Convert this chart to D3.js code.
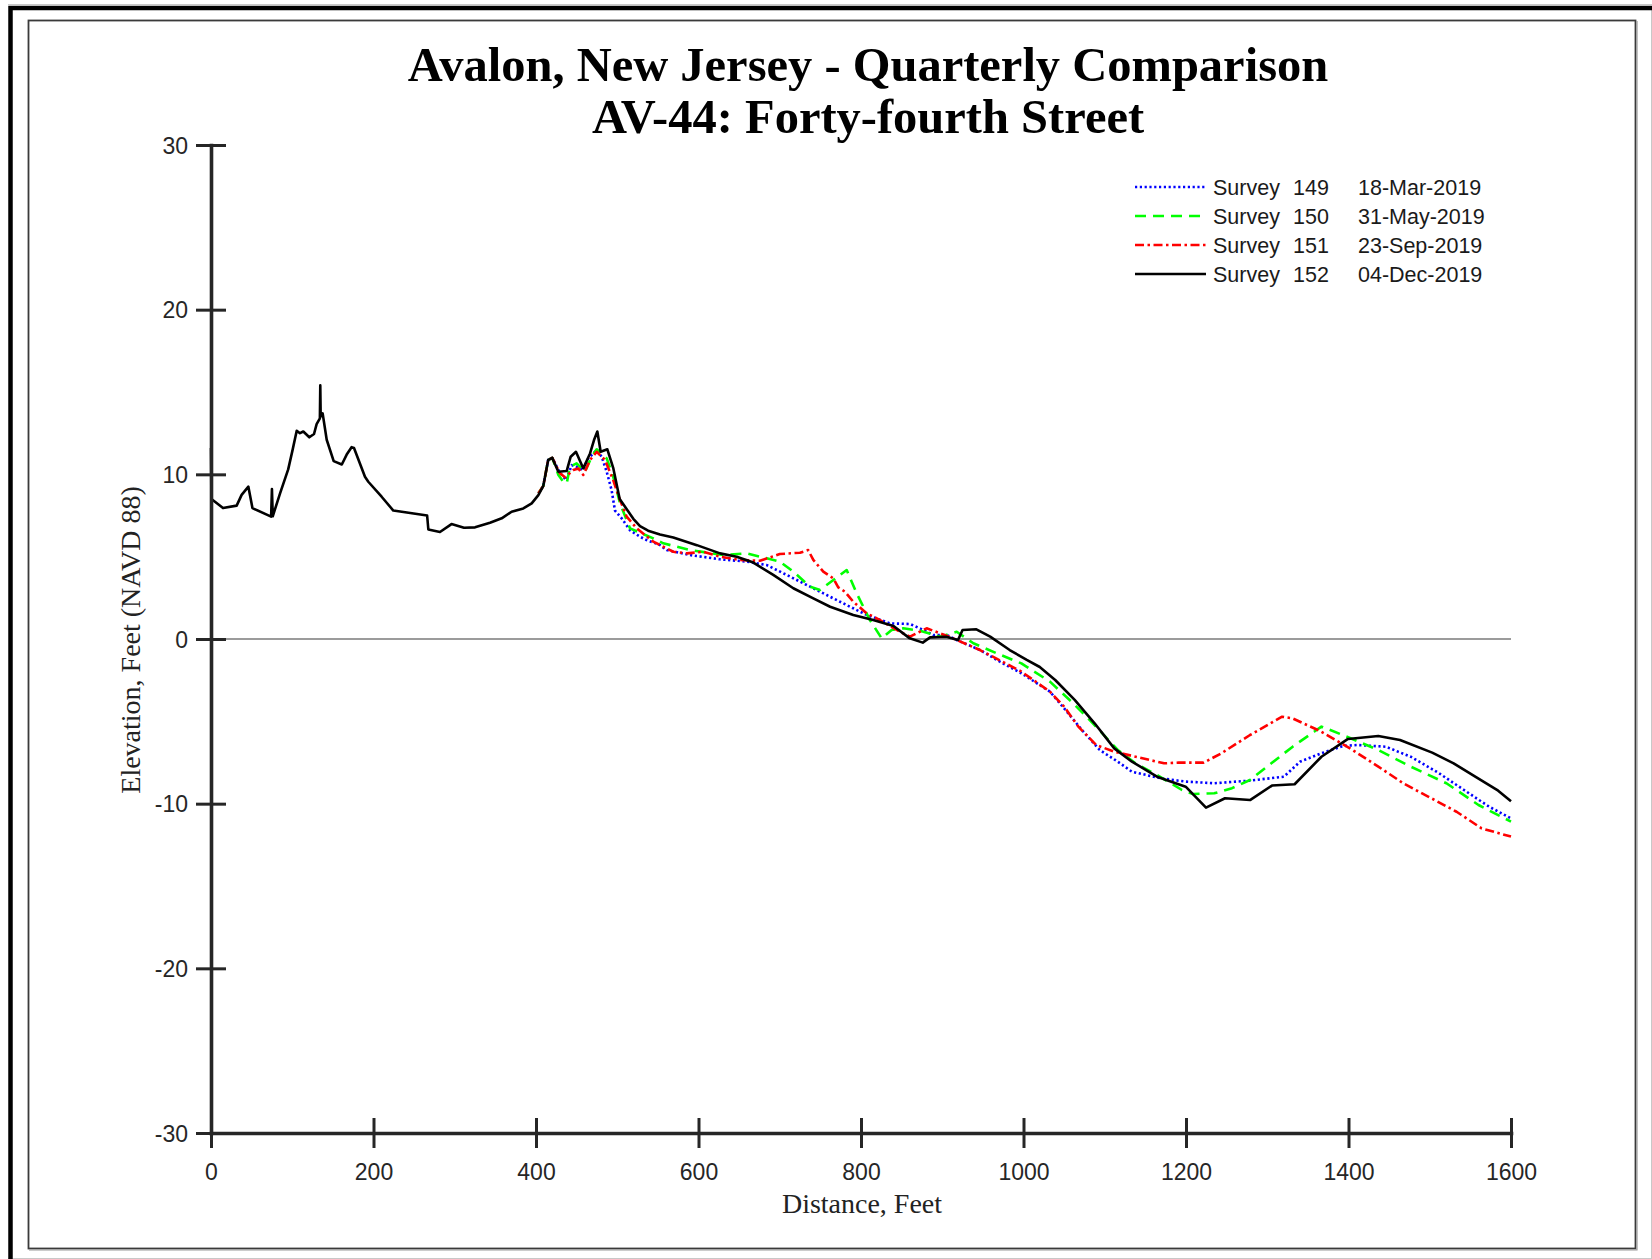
<!DOCTYPE html>
<html>
<head>
<meta charset="utf-8">
<script src="https://cdn.jsdelivr.net/npm/d3@7/dist/d3.min.js"></script>
<style>
   body { margin: 0; background: #fff; }
   svg { display: block; }
</style>
</head>
<body>
<div id="profile-chart"></div>
<script>
// values: [distance ft, elevation ft NAVD88]
const survey149 = [[403,8.85],[409,9.3],[415,10.87],[420,11.0],[428.7,10.16],[437,9.65],[444,10.56],[450,10.46],[457.4,10.26],[464.4,10.97],[474.7,11.48],[480.8,11.07],[487,10.16],[493,9.05],[497.2,7.8],[505.4,7.33],[515.7,6.6],[528,6.21],[536,6.01],[552.6,5.71],[560.8,5.4],[589.5,5.1],[626.5,4.84],[659.3,4.7],[684,4.49],[708.6,3.89],[733.2,3.28],[757.8,2.67],[782.4,2.06],[807,1.46],[835.7,0.95],[860.3,0.91],[876.7,0.55],[889,0.24],[905.5,0.24],[917.8,-0.06],[946.5,-0.67],[971,-1.38],[997.4,-2.08],[1032.6,-3.2],[1050,-4.21],[1072,-5.53],[1093.8,-6.74],[1116,-7.45],[1133.5,-8.06],[1168.9,-8.46],[1199.6,-8.66],[1234.8,-8.76],[1278.8,-8.6],[1320.6,-8.36],[1340.3,-7.45],[1366.7,-6.94],[1393,-6.5],[1410.6,-6.44],[1445.8,-6.54],[1476.6,-7.15],[1511.4,-8.15],[1542.2,-9.17],[1573,-10.18],[1600,-10.89]];

const survey150 = [[403,8.85],[409,9.3],[415,10.87],[420,11.0],[427.6,9.96],[433.6,9.55],[437.8,9.45],[441.8,10.46],[450,10.67],[460.3,10.16],[468.5,11.07],[474.7,11.52],[487,10.97],[495,9.86],[503.4,8.24],[515.7,6.72],[528,6.45],[544.4,6.11],[556.7,5.81],[589.5,5.4],[630.6,5.1],[659.3,5.2],[684,4.9],[700.3,4.69],[716.7,4.09],[737.2,3.18],[749.5,2.98],[766,3.58],[782.4,4.19],[794.7,2.77],[811,1.15],[825.4,0.04],[837.7,0.55],[852,0.65],[872.6,0.5],[897.2,0.14],[917.8,0.44],[938.3,-0.26],[967,-0.87],[997.4,-1.48],[1032.6,-2.59],[1059,-3.8],[1085.4,-5.12],[1116,-6.74],[1138,-7.55],[1164.3,-8.26],[1195,-9.17],[1208.5,-9.41],[1234.8,-9.37],[1256.6,-9.06],[1278.8,-8.56],[1305,-7.55],[1331.3,-6.54],[1357.6,-5.63],[1366.7,-5.32],[1393,-5.83],[1436.7,-6.74],[1476.6,-7.75],[1520.5,-8.76],[1560,-10.08],[1600,-11.09]];

const survey151 = [[403,8.85],[409,9.3],[415,10.87],[420,11.0],[429.5,10.06],[435.7,9.82],[446,10.26],[452,10.36],[458.2,9.96],[466.5,10.87],[474.7,11.37],[485,10.87],[495,9.65],[503.4,8.44],[511.6,7.43],[524,6.72],[544.4,5.91],[569,5.3],[585.5,5.2],[606,5.3],[626.5,5.0],[651,4.8],[675.7,4.75],[700,5.16],[724.9,5.24],[735,5.4],[741.3,4.8],[753.6,4.09],[766,3.68],[772,3.14],[780.3,2.87],[790.5,2.26],[807,1.56],[823.4,1.15],[848,0.44],[860.3,0.14],[880.8,0.65],[897.2,0.35],[917.8,-0.06],[946.5,-0.67],[971,-1.3],[997.4,-1.98],[1032.6,-3.2],[1050,-4.11],[1067.5,-5.32],[1089.4,-6.44],[1111.7,-6.84],[1138,-7.15],[1173,-7.55],[1191,-7.51],[1221.6,-7.51],[1243.6,-6.94],[1278.8,-5.83],[1318.3,-4.72],[1331.3,-4.82],[1366.7,-5.63],[1401.8,-6.64],[1436.7,-7.75],[1467.3,-8.76],[1498,-9.57],[1533,-10.49],[1563.8,-11.5],[1600,-12.0]];

const survey152 = [[0,11.6],[0.5,8.5],[14.8,7.95],[31.6,8.1],[37.7,8.75],[46,9.25],[51,7.95],[74,7.43],[75,9.1],[76,7.45],[85,8.85],[95,10.3],[100.5,11.5],[105.5,12.65],[109.5,12.5],[113.6,12.6],[121,12.25],[126.8,12.45],[130,13.05],[134,13.4],[134.5,15.4],[135,13.5],[137.4,13.7],[142.4,12.1],[151,10.8],[161,10.6],[167,11.2],[173,11.65],[176,11.6],[189.5,9.85],[193.6,9.55],[210,8.64],[224.4,7.8],[266,7.5],[267.5,6.65],[281.8,6.5],[296,6.98],[311.4,6.76],[325,6.78],[343.4,7.06],[357.8,7.33],[370,7.73],[384.4,7.93],[394.7,8.24],[402.9,8.74],[409,9.3],[415,10.87],[420,11.0],[427.5,10.16],[437.7,10.2],[442.7,11.07],[449.2,11.37],[458.2,10.36],[466.5,11.27],[471.4,12.08],[475.5,12.6],[479.6,11.37],[487.8,11.52],[495.2,10.36],[503,8.5],[510,8.0],[519.8,7.3],[528,6.85],[538,6.58],[552.6,6.35],[569,6.17],[598,5.7],[626.5,5.2],[647,5.0],[667.5,4.64],[692,3.89],[716.7,3.08],[741.3,2.47],[762,1.96],[790.5,1.46],[815,1.15],[840,0.79],[860,0.04],[876,-0.22],[885,0.1],[905,0.14],[919.4,-0.06],[925,0.55],[942,0.59],[959,0.14],[983,-0.67],[1004,-1.27],[1020,-1.7],[1039,-2.49],[1063,-3.7],[1087.5,-5.12],[1111.7,-6.64],[1133.5,-7.45],[1164.3,-8.36],[1199.6,-8.97],[1224.6,-10.24],[1248,-9.67],[1278.8,-9.78],[1305.8,-8.9],[1333.7,-8.82],[1366.7,-7.15],[1399.4,-6.07],[1436.7,-5.89],[1463.4,-6.13],[1503,-6.9],[1529.4,-7.55],[1556,-8.36],[1584.2,-9.21],[1600,-9.85]];

const surveyNumbers = ['149', '150', '151', '152'];
const surveyDates = ['18-Mar-2019', '31-May-2019', '23-Sep-2019', '04-Dec-2019'];
const xTicks = [0, 200, 400, 600, 800, 1000, 1200, 1400, 1600];
const yTicks = [-30, -20, -10, 0, 10, 20, 30];

const width = 1652,
   height = 1259,
   plot = {left: 211, right: 1511, top: 145, bottom: 1133},
   axisColor = '#262626',
   sansFont = '"Liberation Sans", Arial, sans-serif',
   serifFont = '"Liberation Serif", "Times New Roman", serif';

// one style per survey, same order as surveyNumbers
const lineStyles = [
   {color: '#0000ff', dash: '2.2,2.6'},
   {color: '#00ff00', dash: '11,7'},
   {color: '#ff0000', dash: '9,3.5,2.5,3.5'},
   {color: '#000000', dash: null}
];
const surveys = [survey149, survey150, survey151, survey152];

const svg = d3.select('#profile-chart')
   .append('svg')
   .attr('viewBox', [0, 0, width, height])
   .attr('width', width)
   .attr('height', height);

// page frame
svg.append('rect').attr('width', width).attr('height', height).attr('fill', '#fff');
svg.append('line').attr('x1', 8).attr('x2', width).attr('y1', 4.5).attr('y2', 4.5).attr('stroke', '#c8c8c8');
svg.append('line').attr('x1', 1651.5).attr('x2', 1651.5).attr('y1', 8).attr('y2', height).attr('stroke', '#c8c8c8');
svg.append('line').attr('x1', 8).attr('x2', width).attr('y1', 1258.5).attr('y2', 1258.5).attr('stroke', '#c8c8c8');
svg.append('path')
   .attr('d', `M10.5,${height} V8 H${width}`)
   .attr('fill', 'none')
   .attr('stroke', '#000')
   .attr('stroke-width', 4.5);
svg.append('rect')
   .attr('x', 28.5).attr('y', 20.5)
   .attr('width', 1607).attr('height', 1228)
   .attr('fill', 'none')
   .attr('stroke', '#3a3a3a')
   .attr('stroke-width', 1.8);
svg.append('path')
   .attr('d', 'M1637,21 V1250 H29')
   .attr('fill', 'none')
   .attr('stroke', '#9a9a9a')
   .attr('stroke-width', 1.2);

const x = d3.scaleLinear().domain([0, 1600]).range([plot.left, plot.right]);
const y = d3.scaleLinear().domain([-30, 30]).range([plot.bottom, plot.top]);

// titles
const title = svg.append('g')
   .attr('font-family', serifFont)
   .attr('font-weight', 'bold')
   .attr('font-size', 48.5)
   .attr('text-anchor', 'middle')
   .attr('fill', '#000');
title.append('text').attr('x', 868).attr('y', 81).text('Avalon, New Jersey - Quarterly Comparison');
title.append('text').attr('x', 868).attr('y', 133).text('AV-44: Forty-fourth Street');

// zero reference line
svg.append('line')
   .attr('x1', x(0)).attr('x2', x(1600))
   .attr('y1', y(0)).attr('y2', y(0))
   .attr('stroke', '#7a7a7a')
   .attr('stroke-width', 1.5);

const line = d3.line()
   .x(d => x(d[0]))
   .y(d => y(d[1]));

svg.append('g')
   .selectAll('path')
   .data(surveys)
   .join('path')
   .attr('d', line)
   .attr('fill', 'none')
   .attr('stroke', (d, i) => lineStyles[i].color)
   .attr('stroke-width', 2.6)
   .attr('stroke-linejoin', 'round')
   .attr('stroke-dasharray', (d, i) => lineStyles[i].dash);

// axes with ticks crossing the axis line, plain hyphen minus and no thousands comma
const plainNumber = d => String(d);

const yAxis = svg.append('g')
   .attr('transform', `translate(${plot.left},0)`)
   .call(d3.axisLeft(y).tickValues(yTicks).tickFormat(plainNumber).tickSize(15).tickSizeOuter(0));

const xAxis = svg.append('g')
   .attr('transform', `translate(0,${plot.bottom})`)
   .call(d3.axisBottom(x).tickValues(xTicks).tickFormat(plainNumber).tickSize(15).tickSizeOuter(0));

[yAxis, xAxis].forEach(axis => {
   axis.attr('font-family', sansFont).attr('font-size', 23);
   axis.select('.domain')
      .attr('stroke', axisColor)
      .attr('stroke-width', 3.6)
      .attr('stroke-linecap', 'square');
   axis.selectAll('.tick line').attr('stroke', axisColor).attr('stroke-width', 3);
   axis.selectAll('.tick text').attr('fill', axisColor);
});

yAxis.selectAll('.tick line').attr('x1', -15).attr('x2', 15);
yAxis.selectAll('.tick text').attr('x', -23).attr('dy', '0.36em');
xAxis.selectAll('.tick line').attr('y1', -15).attr('y2', 15);
xAxis.selectAll('.tick text').attr('y', 31).attr('dy', '0.71em');

// axis titles
svg.append('text')
   .attr('x', 862)
   .attr('y', 1213)
   .attr('text-anchor', 'middle')
   .attr('font-family', serifFont)
   .attr('font-size', 28)
   .attr('fill', '#222')
   .text('Distance, Feet');

svg.append('text')
   .attr('transform', 'translate(140,640) rotate(-90)')
   .attr('text-anchor', 'middle')
   .attr('font-family', serifFont)
   .attr('font-size', 28)
   .attr('fill', '#222')
   .text('Elevation, Feet (NAVD 88)');

// legend
const legend = svg.append('g')
   .attr('font-family', sansFont)
   .attr('font-size', 21.5)
   .attr('fill', '#1a1a1a');

const rows = legend.selectAll('g')
   .data(surveyNumbers)
   .join('g')
   .attr('transform', (d, i) => `translate(0,${187 + i * 29})`);

rows.append('line')
   .attr('x1', 1135).attr('x2', 1206)
   .attr('stroke', (d, i) => lineStyles[i].color)
   .attr('stroke-width', 2.4)
   .attr('stroke-dasharray', (d, i) => lineStyles[i].dash);

rows.append('text').attr('x', 1213).attr('y', 8).text('Survey');
rows.append('text').attr('x', 1293).attr('y', 8).text(d => d);
rows.append('text').attr('x', 1358).attr('y', 8).text((d, i) => surveyDates[i]);
</script>
</body>
</html>
